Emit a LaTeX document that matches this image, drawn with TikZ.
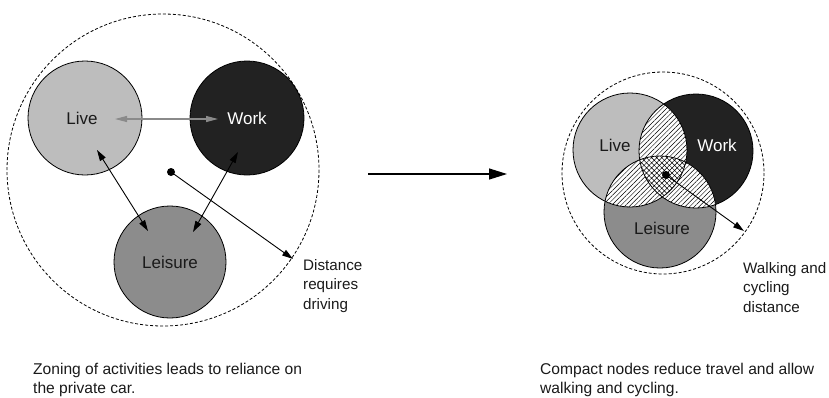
\documentclass[tikz,border=0pt]{standalone}
\usepackage{fontspec}
\setmainfont{Liberation Sans}
\usetikzlibrary{arrows.meta,patterns.meta}
\definecolor{livefill}{HTML}{BDBDBD}
\definecolor{workfill}{HTML}{222222}
\definecolor{leisfill}{HTML}{8C8C8C}
\definecolor{txtdark}{HTML}{1A1A1A}
\definecolor{grayarrow}{HTML}{8A8A8A}
\begin{document}
\begin{tikzpicture}[x=1pt,y=-1pt,
  zone/.style={circle,draw=black,line width=0.8pt,inner sep=0pt,
    font=\fontsize{17}{20}\selectfont,text=txtdark},
  bound/.style={draw=black,line width=0.8pt,dash pattern=on 3pt off 2pt},
  link/.style={line width=0.9pt,{Triangle[length=11pt,width=6.5pt]}-{Triangle[length=11pt,width=6.5pt]}},
  grlink/.style={draw=grayarrow,line width=1.1pt,{Triangle[length=12pt,width=6pt]}-{Triangle[length=12pt,width=6pt]}},
  reach/.style={line width=0.9pt,-{Triangle[length=11pt,width=6.5pt]}},
  note/.style={anchor=north west,inner sep=0pt,align=left,text=txtdark,
    font=\fontsize{15.2}{19.5}\selectfont},
  caption/.style={anchor=north west,inner sep=0pt,align=left,text=txtdark,
    font=\fontsize{15.6}{19}\selectfont},
  lbl/.style={inner sep=0pt,font=\fontsize{17}{20}\selectfont,text=txtdark},
  hatch/.style={pattern={Lines[angle=45,distance=3.3pt,line width=0.5pt]}},
  xhatch/.style={pattern={Hatch[angle=45,distance=3.6pt,line width=0.5pt]}}
]
\useasboundingbox (0,0) rectangle (829,397);

% ---------- left diagram ----------
\coordinate (bigL) at (163,170);
\draw[bound] (bigL) circle[radius=156];
\node[zone,fill=livefill,minimum size=114pt] (live) at (85,118) {\hspace*{-6pt}Live};
\node[zone,fill=workfill,minimum size=114pt,text=white] (work) at (247,118) {Work};
\node[zone,fill=leisfill,minimum size=112pt] (leisure) at (170,262) {Leisure};

\coordinate (g1) at (115,119);
\coordinate (g2) at (218,119);
\draw[grlink] (g1) -- (g2);

\coordinate (a1) at (97,150);
\coordinate (a2) at (148,231);
\draw[link] (a1) -- (a2);
\coordinate (b1) at (238,152);
\coordinate (b2) at (193,232);
\draw[link] (b1) -- (b2);

\coordinate (dotL) at (171,172);
\coordinate (endL) at (293,259);
\fill (dotL) circle[radius=4];
\draw[reach] (dotL) -- (endL);
\node[note] (distnote) at (303,259) {Distance\\requires\\driving};

% ---------- middle arrow ----------
\coordinate (m1) at (368,174);
\coordinate (m2) at (507,174);
\draw[line width=1.2pt,-{Triangle[length=18pt,width=11pt]}] (m1) -- (m2);

% ---------- right diagram ----------
\coordinate (bigR) at (663,173);
\draw[bound] (bigR) circle[radius=101];
\coordinate (cL) at (630,150);
\coordinate (cW) at (696,151);
\coordinate (cE) at (660,212);
\fill[livefill] (cL) circle[radius=57];
\fill[workfill] (cW) circle[radius=57];
\fill[leisfill] (cE) circle[radius=56];
\begin{scope}
  \clip (cL) circle[radius=57];
  \fill[white] (cW) circle[radius=57];
  \fill[hatch] (cW) circle[radius=57];
\end{scope}
\begin{scope}
  \clip (cL) circle[radius=57];
  \fill[white] (cE) circle[radius=56];
  \fill[hatch] (cE) circle[radius=56];
\end{scope}
\begin{scope}
  \clip (cW) circle[radius=57];
  \fill[white] (cE) circle[radius=56];
  \fill[hatch] (cE) circle[radius=56];
\end{scope}
\begin{scope}
  \clip (cL) circle[radius=57];
  \clip (cW) circle[radius=57];
  \fill[white] (cE) circle[radius=56];
  \fill[xhatch] (cE) circle[radius=56];
\end{scope}
\draw[line width=0.8pt] (cL) circle[radius=57];
\draw[line width=0.8pt] (cW) circle[radius=57];
\draw[line width=0.8pt] (cE) circle[radius=56];
\node[lbl] (rlive) at (615,145) {Live};
\node[lbl,text=white] (rwork) at (717,145) {Work};
\node[lbl] (rleis) at (662,228) {Leisure};

\coordinate (dotR) at (666,175);
\coordinate (endR) at (744,231);
\fill (dotR) circle[radius=4];
\draw[reach] (dotR) -- (endR);
\node[note] (walknote) at (743,262) {Walking and\\cycling\\distance};

% ---------- captions ----------
\node[caption] (cap1) at (33,363) {Zoning of activities leads to reliance on\\the private car.};
\node[caption] (cap2) at (540,363) {Compact nodes reduce travel and allow\\walking and cycling.};
\end{tikzpicture}
\end{document}
